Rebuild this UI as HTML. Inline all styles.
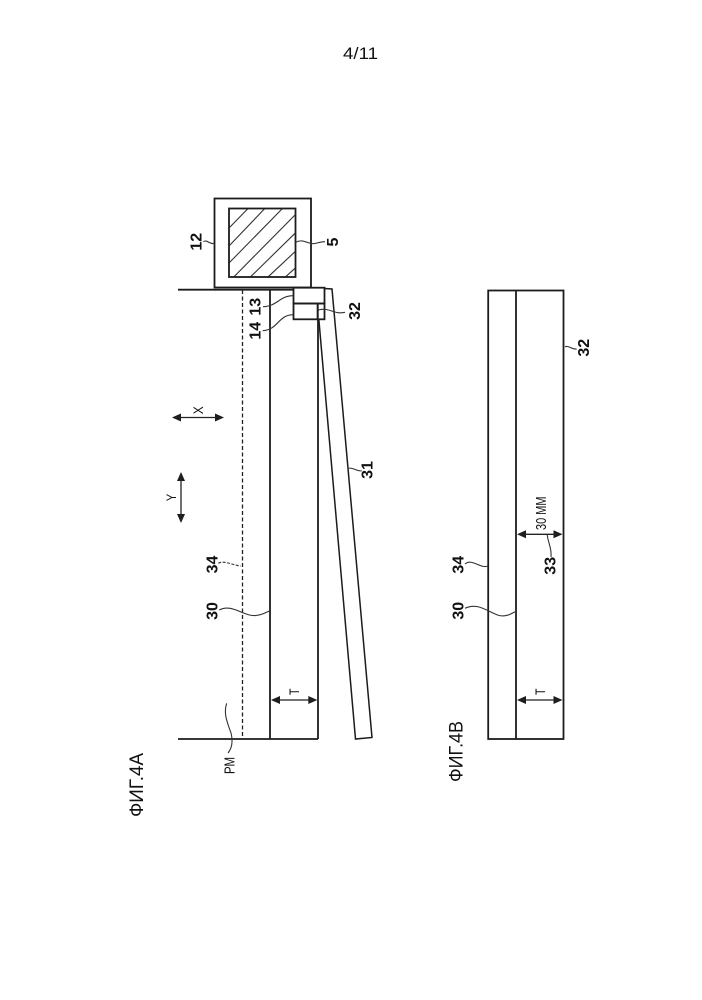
<!DOCTYPE html>
<html>
<head>
<meta charset="utf-8">
<style>
html,body{margin:0;padding:0;background:#fff}
svg{display:block;position:absolute;left:0;top:0}
text{font-family:"Liberation Sans",sans-serif;fill:#111}
.b{font-weight:bold;font-size:16px;text-anchor:middle}
.s{font-size:14px;text-anchor:middle}
.l{fill:none;stroke:#1c1c1c;stroke-width:1.8}
.a{fill:none;stroke:#222;stroke-width:1.3}
.t{fill:none;stroke:#333;stroke-width:1.1}
.h{stroke:#333;stroke-width:1.1;fill:none}
</style>
</head>
<body>
<svg width="702" height="1000" viewBox="0 0 702 1000" xmlns="http://www.w3.org/2000/svg">
<rect width="702" height="1000" fill="#fff"/>
<text x="343" y="59" font-size="17" textLength="35" lengthAdjust="spacingAndGlyphs">4/11</text>

<!-- Box 12 and hatched 5 -->
<rect class="l" x="214.500" y="198.500" width="96.500" height="89"/>
<g class="h">
<line x1="229" y1="228" x2="248.300" y2="208.300"/>
<line x1="229" y1="246" x2="265" y2="208.300"/>
<line x1="229" y1="263" x2="282.700" y2="208.300"/>
<line x1="234" y1="276.700" x2="295" y2="215"/>
<line x1="250.700" y1="276.700" x2="295" y2="233.300"/>
<line x1="268.300" y1="276.700" x2="295" y2="251.700"/>
<line x1="285.700" y1="276.700" x2="295" y2="268.300"/>
</g>
<rect class="l" x="229" y="208.500" width="66.500" height="68.500"/>

<!-- Fig 4A main -->
<line class="l" x1="178" y1="289.700" x2="293" y2="289.700"/>
<line class="l" x1="178" y1="739" x2="318" y2="739"/>
<line class="l" x1="270" y1="289.700" x2="270" y2="739"/>
<line class="l" x1="318" y1="319" x2="318" y2="739"/>
<line x1="242.500" y1="290" x2="242.500" y2="739" stroke="#222" stroke-width="1.3" stroke-dasharray="4 2.500"/>

<!-- Sensor boxes -->
<rect class="l" x="293.500" y="287.700" width="31" height="15.800"/>
<rect class="l" x="293.500" y="303.500" width="24.200" height="15.800"/>
<rect class="l" x="317.700" y="303.500" width="6.800" height="15.800"/>

<!-- Plate 31 -->
<polyline class="l" style="stroke-width:1.5" points="324.500,288.500 332,289 372,737.500 355.500,739 318.800,319"/>

<!-- Arrows -->
<g fill="#1c1c1c" stroke="none">
<path d="M172,417.500 L181,413.500 L181,421.500Z"/>
<path d="M224,417.500 L215,413.500 L215,421.500Z"/>
<path d="M181,472 L177,481 L185,481Z"/>
<path d="M181,523 L177,514 L185,514Z"/>
<path d="M271,700 L280,696 L280,704Z"/>
<path d="M317.300,700 L308.300,696 L308.300,704Z"/>
<path d="M517,700 L526,696 L526,704Z"/>
<path d="M562.500,700 L553.500,696 L553.500,704Z"/>
<path d="M517,534.300 L526,530.300 L526,538.300Z"/>
<path d="M562.500,534.300 L553.500,530.300 L553.500,538.300Z"/>
</g>
<line class="a" x1="175" y1="417.500" x2="221" y2="417.500"/>
<line class="a" x1="181" y1="475" x2="181" y2="520"/>
<line class="a" x1="272" y1="700" x2="315" y2="700"/>
<line class="a" x1="519" y1="700" x2="560" y2="700"/>
<line class="a" x1="519" y1="534.300" x2="560" y2="534.300"/>

<!-- Fig 4B -->
<rect class="l" x="488.200" y="290.500" width="75.300" height="448.500"/>
<line class="l" x1="516" y1="290.500" x2="516" y2="739"/>

<!-- Leaders -->
<g class="t">
<path d="M203.300,241.700 C207,239 210,245 214,243.300"/>
<path d="M295.700,242.300 C303,238 309,245 315,243.500 C319,242.500 322,241.500 325,241.700"/>
<path d="M263,306.700 C278,306 279,296 293,295.700"/>
<path d="M262.700,330.700 C278,330 278,315 293,314.700"/>
<path d="M318.300,310 C330,307 334,315 345,312.300"/>
<path d="M349,468.300 C353,467 357,472 361.700,470.700"/>
<path d="M218.300,563.300 C224,560 232,565 240.700,566" stroke-dasharray="3 1.500"/>
<path d="M219.300,610 C232,603 244,617 256,615.500 C262,615 265,613 269.300,611"/>
<path d="M226.700,703.300 C223,714 228,724 231,733 C233,741 232,748 228,753"/>
<path d="M465,564 C472,558 480,569 488,566"/>
<path d="M465,608.300 C478,602 488,612 499,615.500 C506,617 511,614 515,611.700"/>
<path d="M547.300,535 C548,543 552,548 551,557"/>
<path d="M565,346.700 C569,345 572,350 576.700,349"/>
</g>

<!-- Rotated labels -->
<text class="b" transform="translate(201.700,241.700) rotate(-90)">12</text>
<text class="b" transform="translate(338,242) rotate(-90)">5</text>
<text class="b" transform="translate(260.700,306.700) rotate(-90)">13</text>
<text class="b" transform="translate(260.700,330.700) rotate(-90)">14</text>
<text class="b" transform="translate(360,311) rotate(-90)">32</text>
<text class="b" transform="translate(372.700,470) rotate(-90)">31</text>
<text class="b" transform="translate(217.700,564.500) rotate(-90)">34</text>
<text class="b" transform="translate(217.700,611) rotate(-90)">30</text>
<text class="b" transform="translate(463.300,564.700) rotate(-90)">34</text>
<text class="b" transform="translate(463.300,610.700) rotate(-90)">30</text>
<text class="b" transform="translate(555.700,565.800) rotate(-90)">33</text>
<text class="b" transform="translate(589,347.700) rotate(-90)">32</text>
<text class="s" transform="translate(203,410.300) rotate(-90)" textLength="8" lengthAdjust="spacingAndGlyphs">X</text>
<text class="s" transform="translate(176,497.500) rotate(-90)" textLength="7.500" lengthAdjust="spacingAndGlyphs">Y</text>
<text class="s" transform="translate(299,691.700) rotate(-90)" textLength="6.500" lengthAdjust="spacingAndGlyphs">T</text>
<text class="s" transform="translate(545,691.700) rotate(-90)" textLength="6.500" lengthAdjust="spacingAndGlyphs">T</text>
<text transform="translate(234.400,774) rotate(-90)" font-size="14.500" textLength="17" lengthAdjust="spacingAndGlyphs">РМ</text>
<text transform="translate(546,530) rotate(-90)" font-size="14.500" textLength="33.500" lengthAdjust="spacingAndGlyphs">30 ММ</text>
<text transform="translate(143,817) rotate(-90)" font-size="19" textLength="64" lengthAdjust="spacingAndGlyphs">ФИГ.4А</text>
<text transform="translate(462.300,782) rotate(-90)" font-size="19" textLength="61" lengthAdjust="spacingAndGlyphs">ФИГ.4В</text>
</svg>
</body>
</html>
